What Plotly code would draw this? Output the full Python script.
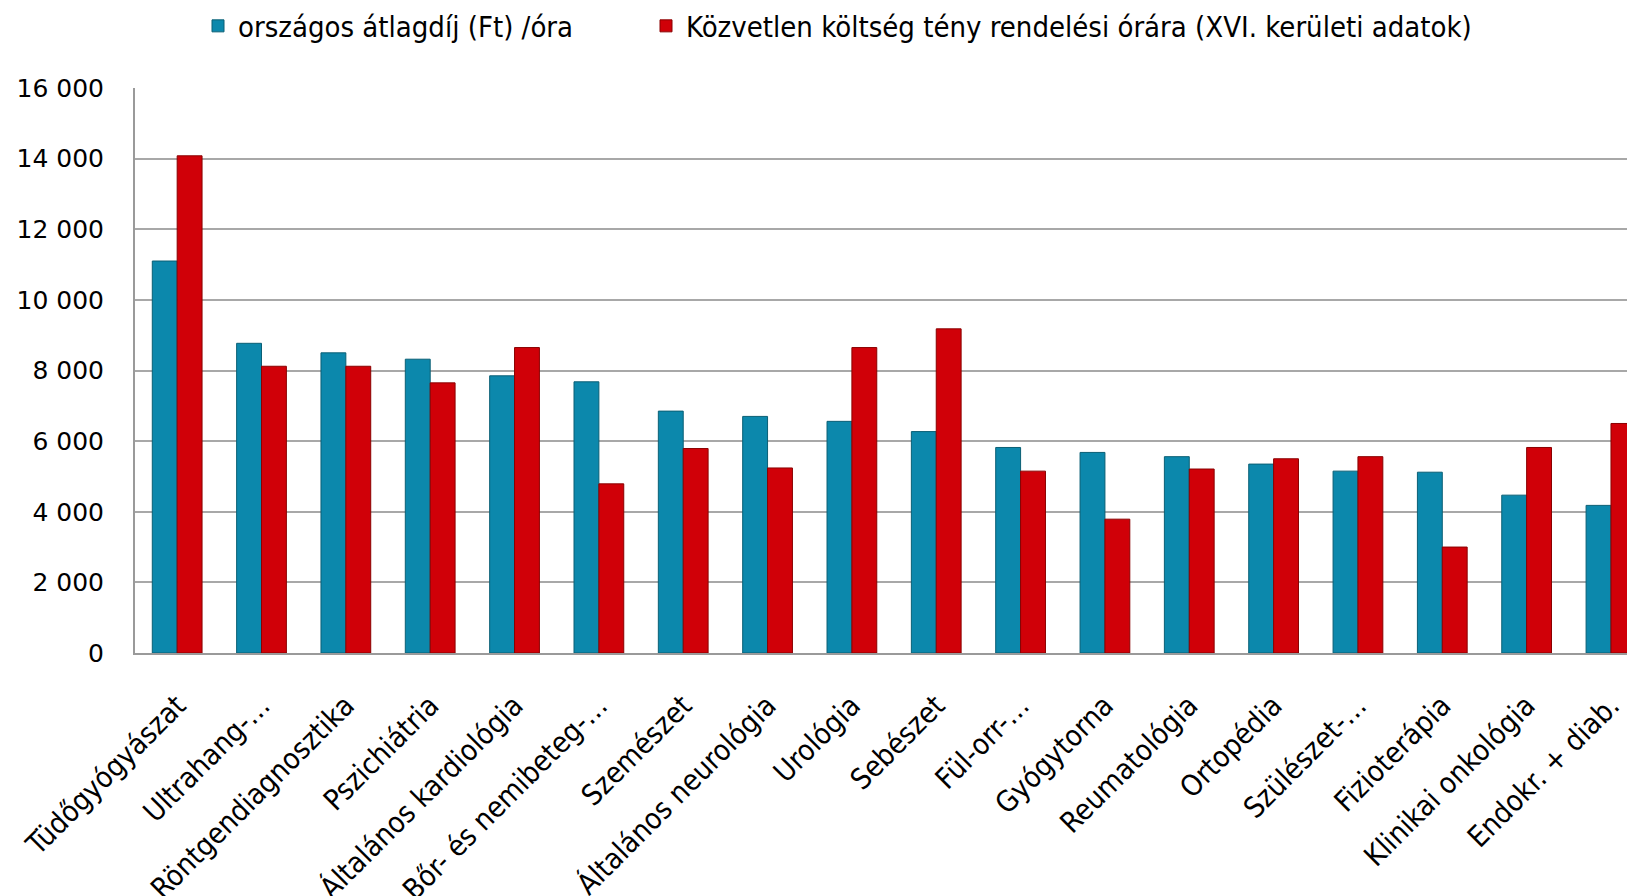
import plotly.graph_objects as go

categories = ["Tüdőgyógyászat", "Ultrahang-…", "Röntgendiagnosztika", "Pszichiátria",
              "Általános kardiológia", "Bőr- és nemibeteg-…", "Szemészet", "Általános neurológia",
              "Urológia", "Sebészet", "Fül-orr-…", "Gyógytorna", "Reumatológia", "Ortopédia",
              "Szülészet-…", "Fizioterápia", "Klinikai onkológia", "Endokr. + diab."]

orszagos = [11100, 8770, 8500, 8320, 7850, 7680, 6850, 6700, 6560, 6270,
            5820, 5680, 5560, 5350, 5150, 5120, 4470, 4180]
kozvetlen = [14080, 8120, 8120, 7650, 8650, 4790, 5790, 5240, 8650, 9180,
             5150, 3790, 5210, 5500, 5560, 3000, 5820, 6500]

series_names = ["országos átlagdíj (Ft) /óra",
                "Közvetlen költség tény rendelési órára (XVI. kerületi adatok)"]

y_ticks = [0, 2000, 4000, 6000, 8000, 10000, 12000, 14000, 16000]

label_font = "DejaVu Sans Condensed, DejaVu Sans"

fig = go.Figure()
fig.add_trace(go.Bar(
    x=categories, y=orszagos, name=series_names[0], legend="legend",
    marker=dict(color="#0C88AC", line=dict(color="#0A5F75", width=1)),
))
fig.add_trace(go.Bar(
    x=categories, y=kozvetlen, name=series_names[1], legend="legend2",
    marker=dict(color="#D00008", line=dict(color="#8A0000", width=1)),
))

legend_common = dict(
    orientation="h", xref="container", yref="container",
    yanchor="middle", xanchor="left",
    font=dict(family=label_font, size=29, color="black"),
    itemwidth=30, bgcolor="rgba(0,0,0,0)",
)

fig.update_layout(
    width=1627, height=896,
    paper_bgcolor="white", plot_bgcolor="white",
    margin=dict(l=135, r=0, t=88, b=243),
    barmode="group", bargap=0.41, bargroupgap=0,
    separators=", ",
    showlegend=True,
    legend=dict(x=198 / 1627, y=1 - 26 / 896, **legend_common),
    legend2=dict(x=646 / 1627, y=1 - 26 / 896, **legend_common),
    font=dict(family="DejaVu Sans", color="black"),
)
fig.update_xaxes(
    range=[-0.5, 17.19], tickangle=-45,
    tickfont=dict(family=label_font, size=29, color="black"),
    showline=True, linecolor="#9A9A9A", linewidth=2,
    showgrid=False, ticks="", fixedrange=True,
    ticklabelstandoff=22, automargin=False,
)
fig.update_yaxes(
    range=[0, 16000], tickvals=y_ticks, tickformat=",d",
    tickfont=dict(family="DejaVu Sans", size=25, color="black"),
    showline=True, linecolor="#9A9A9A", linewidth=2,
    showgrid=True, gridcolor="#A8A8A8", gridwidth=2,
    zeroline=False, ticks="", ticklabelstandoff=24, automargin=False,
)

fig.write_html("out.html")
